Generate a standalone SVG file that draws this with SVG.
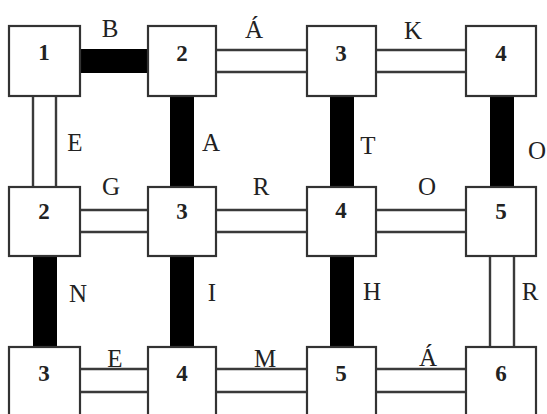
<svg xmlns="http://www.w3.org/2000/svg" width="547" height="414" viewBox="0 0 547 414">
<style>
.box{fill:#fff;stroke:#333;stroke-width:2.2}
.num{font-family:"Liberation Serif",serif;font-weight:bold;font-size:23px;fill:#222;text-anchor:middle}
.lbl{font-family:"Liberation Serif",serif;font-size:25px;fill:#222;text-anchor:middle}
.dbl{stroke:#3a3a3a;stroke-width:2.4;fill:none}
.heavy{fill:#000}
</style>
<rect width="547" height="414" fill="#fff"/>
<g id="connectors">
  <rect class="heavy" x="80" y="49" width="68" height="24"/>
  <rect class="heavy" x="170" y="96" width="24" height="92"/>
  <rect class="heavy" x="330" y="96" width="24" height="92"/>
  <rect class="heavy" x="490" y="96" width="24" height="92"/>
  <rect class="heavy" x="33" y="256" width="24" height="92"/>
  <rect class="heavy" x="170" y="256" width="24" height="92"/>
  <rect class="heavy" x="330" y="256" width="24" height="92"/>
  <path class="dbl" d="M216 50H307M216 72H307M376 50H466M376 72H466"/>
  <path class="dbl" d="M80 210H148M80 232H148M216 210H307M216 232H307M376 210H466M376 232H466"/>
  <path class="dbl" d="M80 369H148M80 392H148M216 369H307M216 392H307M376 369H466M376 392H466"/>
  <path class="dbl" d="M33 97V187M56 97V187M490 257V347M514 257V347"/>
  <text class="lbl" x="110" y="37">B</text>
  <text class="lbl" x="254" y="38">Á</text>
  <text class="lbl" x="413" y="39">K</text>
  <text class="lbl" x="75" y="151">E</text>
  <text class="lbl" x="211" y="151">A</text>
  <text class="lbl" x="368" y="154">T</text>
  <text class="lbl" x="537" y="159">O</text>
  <text class="lbl" x="111" y="195">G</text>
  <text class="lbl" x="261" y="195">R</text>
  <text class="lbl" x="427" y="195">O</text>
  <text class="lbl" x="78" y="302">N</text>
  <text class="lbl" x="212" y="301">I</text>
  <text class="lbl" x="372" y="300">H</text>
  <text class="lbl" x="530" y="300">R</text>
  <text class="lbl" x="115" y="367">E</text>
  <text class="lbl" x="265" y="367">M</text>
  <text class="lbl" x="428" y="366">Á</text>
</g>
<g id="n-r1c1"><rect class="box" x="9" y="26" width="71" height="70"/><text class="num" x="44" y="60">1</text></g>
<g id="n-r1c2"><rect class="box" x="148" y="26" width="68" height="70"/><text class="num" x="182" y="61">2</text></g>
<g id="n-r1c3"><rect class="box" x="307" y="26" width="69" height="70"/><text class="num" x="341" y="61">3</text></g>
<g id="n-r1c4"><rect class="box" x="466" y="26" width="70" height="70"/><text class="num" x="501" y="61">4</text></g>
<g id="n-r2c1"><rect class="box" x="9" y="187" width="71" height="69"/><text class="num" x="44" y="219">2</text></g>
<g id="n-r2c2"><rect class="box" x="148" y="187" width="68" height="69"/><text class="num" x="182" y="219">3</text></g>
<g id="n-r2c3"><rect class="box" x="307" y="187" width="69" height="69"/><text class="num" x="341" y="218">4</text></g>
<g id="n-r2c4"><rect class="box" x="466" y="187" width="70" height="69"/><text class="num" x="501" y="219">5</text></g>
<g id="n-r3c1"><rect class="box" x="9" y="347" width="71" height="70"/><text class="num" x="44" y="381">3</text></g>
<g id="n-r3c2"><rect class="box" x="148" y="347" width="68" height="70"/><text class="num" x="182" y="381">4</text></g>
<g id="n-r3c3"><rect class="box" x="307" y="347" width="69" height="70"/><text class="num" x="341" y="381">5</text></g>
<g id="n-r3c4"><rect class="box" x="466" y="347" width="70" height="70"/><text class="num" x="501" y="381">6</text></g>
</svg>
